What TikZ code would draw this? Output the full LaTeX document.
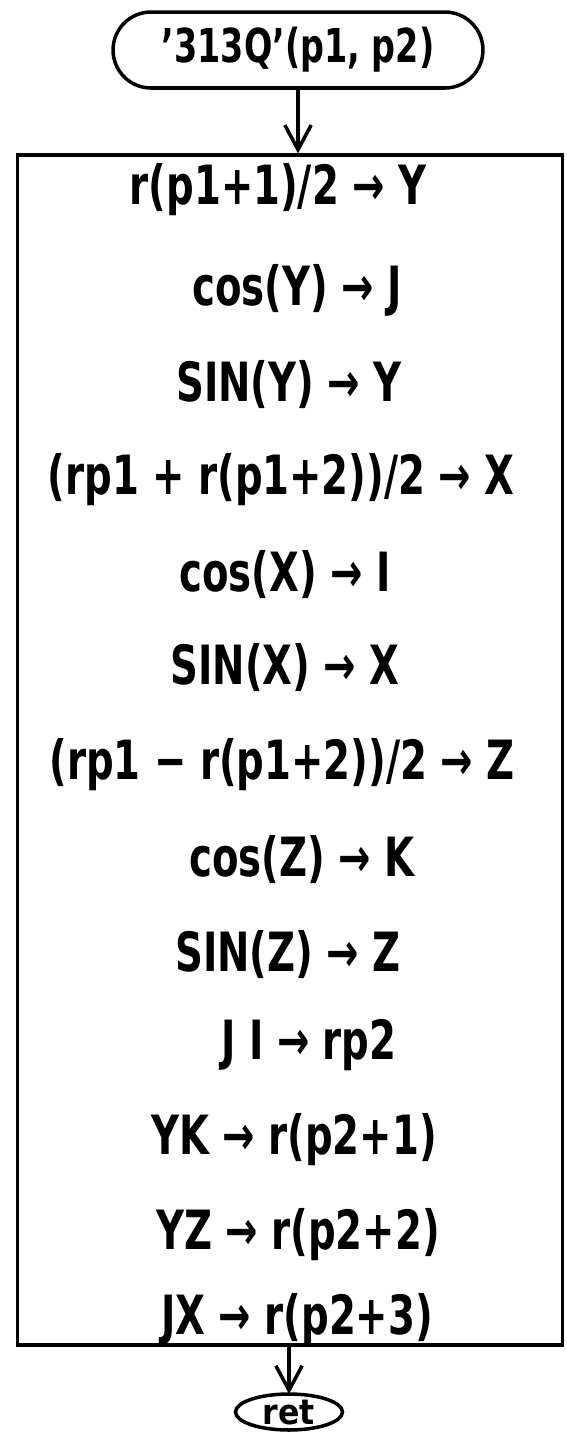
\documentclass[tikz,border=0pt]{standalone}
\usepackage{fontspec}
\usepackage{graphicx}
\setmainfont{DejaVu Sans}
\usetikzlibrary{arrows.meta}
\newcommand{\tallhand}[1]{\scalebox{1}[1.4]{#1}}

\begin{document}
\begin{tikzpicture}[x=0.02cm, y=-0.02cm, line width=2pt,
    every node/.style={font=\bfseries\fontsize{22}{26}\selectfont},
    flowarrow/.style={line width=2pt, -{Straight Barb[length=14pt, width=15pt]}}]
    \useasboundingbox (0,0) rectangle (566,1434);
    % Entry terminal
    \node[draw, rounded corners=0.76cm, minimum width=7.4cm, minimum height=1.52cm,
      inner sep=0pt, font=\bfseries\fontsize{19}{22}\selectfont] (start) at (298,50)
      {\tallhand{\textquoteright313Q\textquoteright(p1, p2)}};
    % Statement block
    \node[draw, minimum width=10.9cm, minimum height=23.8cm, inner sep=0pt] (body) at (290,750) {};
    \foreach \i/\y/\x/\t in {1/190/278/{r(p1+1)/2 → Y}, 2/290/297/{cos(Y) → J},
        3/385/289/{SIN(Y) → Y}, 4/480/281/{(rp1 + r(p1+2))/2 → X},
        5/575/285/{cos(X) → I}, 6/668/285/{SIN(X) → X},
        7/765/282/{(rp1 − r(p1+2))/2 → Z}, 8/860/302/{cos(Z) → K},
        9/955/288/{SIN(Z) → Z}, 10/1045/309/{J I → rp2},
        11/1140/294/{YK → r(p2+1)}, 12/1235/298/{YZ → r(p2+2)},
        13/1320/297/{JX → r(p2+3)}}
      \node (l\i) at (\x,\y) {\tallhand{\t}};
    % Exit terminal
    \node[inner sep=0pt, font=\bfseries\fontsize{18}{22}\selectfont] (ret) at (289,1413) {\scalebox{1}[1.1]{ret}};
    \draw (289,1412) ellipse [x radius=1.07cm, y radius=0.36cm];
    \coordinate (rettop) at (289,1394);
    % Connectors
    \draw[flowarrow] (start.south) -- (start.south |- body.north);
    \draw[flowarrow] (rettop |- body.south) -- (rettop);
\end{tikzpicture}
\end{document}
